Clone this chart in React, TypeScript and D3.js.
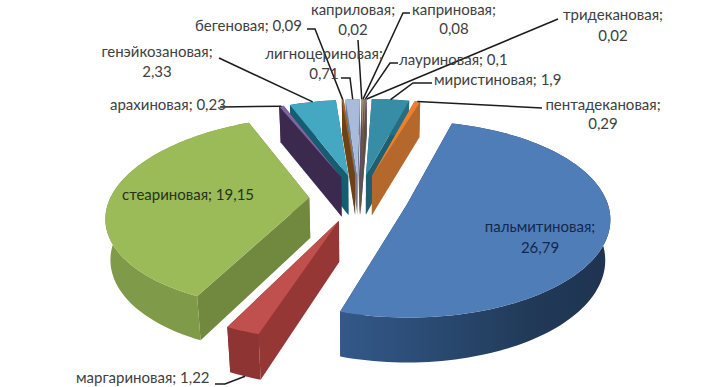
import * as d3 from "d3";

const names = [
  "каприловая",
  "каприновая",
  "лауриновая",
  "тридекановая",
  "миристиновая",
  "пентадекановая",
  "пальмитиновая",
  "маргариновая",
  "стеариновая",
  "арахиновая",
  "генэйкозановая",
  "бегеновая",
  "лигноцериновая",
];
const values = [0.02, 0.08, 0.1, 0.02, 1.9, 0.29, 26.79, 1.22, 19.15, 0.23, 2.33, 0.09, 0.71];
const valueLabels = ["0,02", "0,08", "0,1", "0,02", "1,9", "0,29", "26,79", "1,22", "19,15", "0,23", "2,33", "0,09", "0,71"];

const WIDTH = 722;
const HEIGHT = 387;
const CX = 359;
const CY = 198;
const RX = 199;
const RY = 94;
const DEPTH = 41;
const PERSP = 0.15; // stronger = near slices bigger
const SHEAR = 7; // the far edge leans right
const SHRINK = 0.02; // bottom rim is narrower than the top rim
const EXPLODE = 0.25;
const START = (-1.7 * Math.PI) / 180;

// top, radial wall, outer wall
const colors: Record<string, [string, string, string]> = {
  каприловая: ["#8a7a9c", "#5b4a6b", "#5b4a6b"],
  каприновая: ["#a08a72", "#6b5846", "#6b5846"],
  лауриновая: ["#8d7663", "#5f4d3e", "#5f4d3e"],
  тридекановая: ["#a5a0c0", "#6a6480", "#6a6480"],
  миристиновая: ["#378da5", "#1f5f72", "#256d82"],
  пентадекановая: ["#e8822e", "#b5682b", "#b5682b"],
  пальмитиновая: ["#4f7db8", "#243c5c", "#243c5c"],
  маргариновая: ["#c0504d", "#953735", "#8e3432"],
  стеариновая: ["#9bbb59", "#71893f", "#7f9a48"],
  арахиновая: ["#8064a2", "#3b2a4e", "#3b2a4e"],
  генэйкозановая: ["#45a8c2", "#155e72", "#155e72"],
  бегеновая: ["#a8601c", "#6e4216", "#6e4216"],
  лигноцериновая: ["#a9bbdb", "#6f8096", "#6f8096"],
};

// text lines as [text, x, y], then the leader's elbow points
type Label = {
  lines: [string, number, number][];
  anchor: string;
  elbow?: [number, number][];
  tipZ?: number;
  color?: string;
};
const labelLayout: Record<string, Label> = {
  каприловая: { lines: [["каприловая;", 353, 15], ["0,02", 353, 35]], anchor: "middle", elbow: [[358, 40]] },
  каприновая: { lines: [["каприновая;", 454, 15], ["0,08", 454, 34]], anchor: "middle", elbow: [[410, 13], [403, 13]] },
  лауриновая: { lines: [["лауриновая; 0,1", 399, 65]], anchor: "start", elbow: [[398, 63], [390, 63]] },
  тридекановая: { lines: [["тридекановая;", 613, 20], ["0,02", 613, 41]], anchor: "middle", elbow: [[558, 19]] },
  миристиновая: { lines: [["миристиновая; 1,9", 434, 85]], anchor: "start", elbow: [[432, 83], [413, 83]] },
  пентадекановая: { lines: [["пентадекановая;", 603, 110], ["0,29", 603, 129]], anchor: "middle", elbow: [[542, 108]] },
  пальмитиновая: { lines: [["пальмитиновая;", 540, 232], ["26,79", 540, 253]], anchor: "middle", color: "#14294a" },
  маргариновая: { lines: [["маргариновая; 1,22", 76, 383]], anchor: "start", elbow: [[215, 384], [225, 384]], tipZ: 1 },
  стеариновая: { lines: [["стеариновая; 19,15", 122, 200]], anchor: "start", color: "#24331a" },
  арахиновая: { lines: [["арахиновая; 0,23", 110, 110]], anchor: "start", elbow: [[220, 107]] },
  генэйкозановая: { lines: [["генэйкозановая;", 157, 57], ["2,33", 157, 77]], anchor: "middle", elbow: [[219, 58]] },
  бегеновая: { lines: [["бегеновая; 0,09", 195, 31]], anchor: "start", elbow: [[307, 29], [315, 29]] },
  лигноцериновая: { lines: [["лигноцериновая;", 324, 59], ["0,71", 324, 79]], anchor: "middle", elbow: [[341, 78], [350, 78]] },
};

// disc coordinates to screen, z is height below the top face
function project(wx: number, wy: number, z = 0): [number, number] {
  const p = 1 / (1 - PERSP * wy + SHRINK * z);
  return [CX + wx * RX * p - wy * SHEAR, CY + wy * RY * p + z * DEPTH * p];
}

const pie = d3
  .pie<number>()
  .sort(null)
  .value((d) => d)
  .startAngle(START)
  .endAngle(START + Math.PI * 2);

const toPath = d3.line();

const arcs = pie(values).map((a, i) => {
  const mid = (a.startAngle + a.endAngle) / 2;
  const ox = Math.sin(mid) * EXPLODE;
  const oy = -Math.cos(mid) * EXPLODE;
  const n = Math.max(2, Math.ceil((a.endAngle - a.startAngle) / 0.03));
  const rim = d3.range(n + 1).map((k) => {
    const t = a.startAngle + ((a.endAngle - a.startAngle) * k) / n;
    return [ox + Math.sin(t), oy - Math.cos(t)] as [number, number];
  });
  return { name: names[i], label: valueLabels[i], mid, ox, oy, rim };
});

function Slice({ s }: { s: (typeof arcs)[number] }) {
  const [top, radial, outer] = colors[s.name];
  const apexTop = project(s.ox, s.oy);
  const apexBot = project(s.ox, s.oy, 1);
  const rimTop = s.rim.map(([x, y]) => project(x, y));
  const rimBot = s.rim.map(([x, y]) => project(x, y, 1));
  const last = rimTop.length - 1;
  const wallFill = s.name === "пальмитиновая" ? "url(#palmWall)" : outer;
  return (
    <g>
      <path d={toPath([apexTop, rimTop[0], rimBot[0], apexBot])! + "Z"} fill={radial} />
      <path d={toPath([apexTop, rimTop[last], rimBot[last], apexBot])! + "Z"} fill={radial} />
      <path d={toPath([...rimTop, ...[...rimBot].reverse()])! + "Z"} fill={wallFill} />
      <path d={toPath([apexTop, ...rimTop])! + "Z"} fill={top} />
    </g>
  );
}

function Leader({ s }: { s: (typeof arcs)[number] }) {
  const { elbow, tipZ = 0 } = labelLayout[s.name];
  if (!elbow) return null;
  const tip = project(s.ox + Math.sin(s.mid), s.oy - Math.cos(s.mid), tipZ);
  return (
    <path
      d={toPath([...elbow, tip])!}
      fill="none"
      stroke="#1c1c1c"
      strokeWidth={1.5}
    />
  );
}

export default function App() {
  // far slices first so the near ones paint over them
  const ordered = [...arcs].sort((a, b) => d3.ascending(-Math.cos(a.mid), -Math.cos(b.mid)));
  return (
    <svg
      width={WIDTH}
      height={HEIGHT}
      style={{ position: "absolute", left: 0, top: 0, background: "#fff" }}
      fontFamily="Lato, 'Open Sans', sans-serif"
      fontSize={15}
    >
      <defs>
        <linearGradient id="palmWall" x1="0" x2="1" y1="0" y2="0">
          <stop offset="0" stopColor="#33598a" />
          <stop offset="0.35" stopColor="#2a4a72" />
          <stop offset="0.7" stopColor="#213a58" />
          <stop offset="1" stopColor="#1e3350" />
        </linearGradient>
      </defs>
      {ordered.map((s) => (
        <Slice key={s.name} s={s} />
      ))}
      {arcs.map((s) => (
        <Leader key={s.name} s={s} />
      ))}
      {arcs.map((s) =>
        labelLayout[s.name].lines.map(([text, x, y]) => (
          <text
            key={text}
            x={x}
            y={y}
            textAnchor={labelLayout[s.name].anchor}
            fill={labelLayout[s.name].color ?? "#404040"}
          >
            {text}
          </text>
        )),
      )}
    </svg>
  );
}
